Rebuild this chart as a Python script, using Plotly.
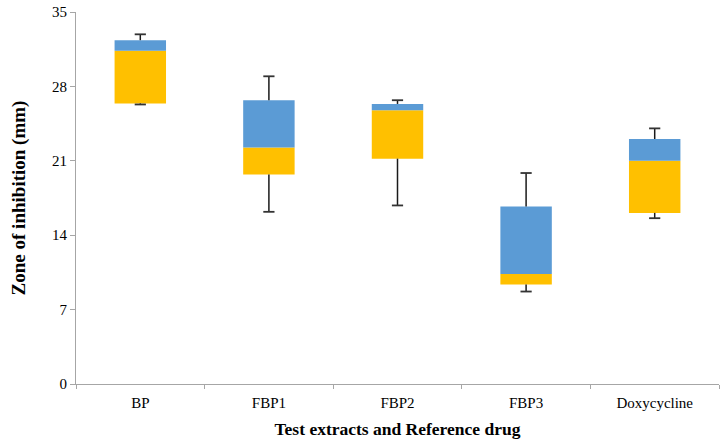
import plotly.graph_objects as go

categories = ["BP", "FBP1", "FBP2", "FBP3", "Doxycycline"]
minimum = [26.3, 16.2, 16.8, 8.7, 15.6]
q1 = [26.4, 19.7, 21.2, 9.35, 16.1]
median = [31.35, 22.25, 25.75, 10.35, 21.0]
q3 = [32.35, 26.7, 26.35, 16.7, 23.05]
maximum = [32.9, 28.95, 26.7, 19.85, 24.05]
y_ticks = [0, 7, 14, 21, 28, 35]

fig = go.Figure()
fig.add_trace(go.Bar(
    x=categories, base=q1, y=[m - a for m, a in zip(median, q1)],
    marker=dict(color="#FFC000", line=dict(width=0)), width=0.4,
    showlegend=False, hoverinfo="skip"))
fig.add_trace(go.Bar(
    x=categories, base=median, y=[b - m for b, m in zip(q3, median)],
    marker=dict(color="#5B9BD5", line=dict(width=0)), width=0.4,
    showlegend=False, hoverinfo="skip"))

# whisker stems
stem_x, stem_y = [], []
for c, lo, a, b, hi in zip(categories, minimum, q1, q3, maximum):
    stem_x += [c, c, None, c, c, None]
    stem_y += [lo, a, None, b, hi, None]
fig.add_trace(go.Scatter(
    x=stem_x, y=stem_y, mode="lines", line=dict(color="#1a1a1a", width=1.5),
    showlegend=False, hoverinfo="skip", connectgaps=False))
# whisker caps
fig.add_trace(go.Scatter(
    x=categories + categories, y=minimum + maximum, mode="markers",
    marker=dict(symbol="line-ew", size=8, line=dict(color="#333333", width=1.8)),
    showlegend=False, hoverinfo="skip"))

font = "Liberation Serif"
fig.update_layout(
    width=723, height=445,
    margin=dict(l=76, r=4, t=12, b=61),
    barmode="overlay",
    plot_bgcolor="white", paper_bgcolor="white",
    font=dict(family=font, size=15, color="black"),
    xaxis=dict(
        type="category", tickson="boundaries", ticks="outside", ticklen=4,
        tickcolor="#A6A6A6", showline=True, linecolor="#A6A6A6", linewidth=1,
        showgrid=False, zeroline=False, ticklabelstandoff=5,
        tickfont=dict(family=font, size=15, color="black"),
        title=dict(text="<b>Test extracts and Reference drug</b>",
                   font=dict(family=font, size=17.5), standoff=12),
        range=[-0.5, 4.5]),
    yaxis=dict(
        range=[0, 35], tickvals=y_ticks, ticks="outside", ticklen=5,
        tickcolor="#A6A6A6", showline=True, linecolor="#A6A6A6", linewidth=1,
        showgrid=False, zeroline=False,
        tickfont=dict(family=font, size=15, color="black"),
        title=dict(text="<b>Zone of inhibition (mm)</b>",
                   font=dict(family=font, size=19), standoff=21)),
)
fig.write_html("out.html", config={"displayModeBar": False},
               post_script="document.body.style.margin='0px';document.body.style.overflow='hidden';")
